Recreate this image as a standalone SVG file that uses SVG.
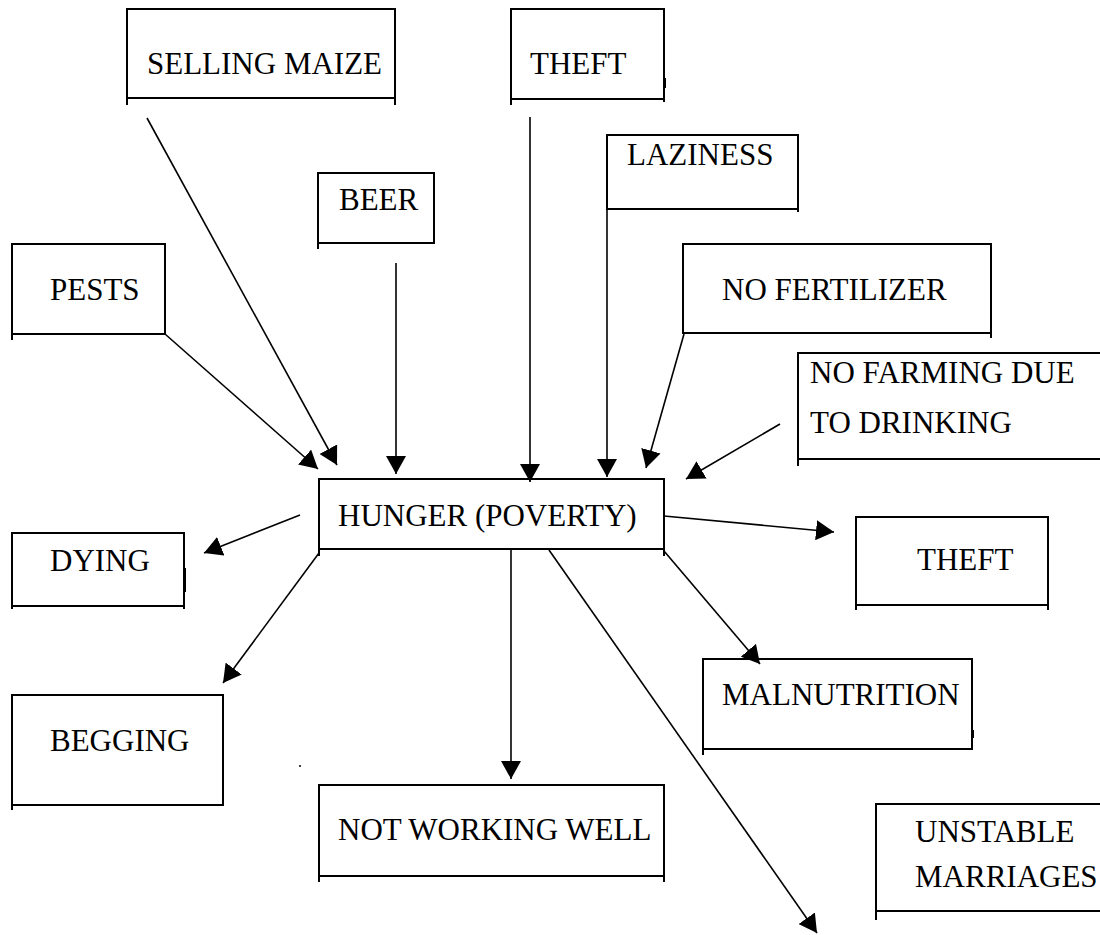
<svg xmlns="http://www.w3.org/2000/svg" width="1100" height="935" viewBox="0 0 1100 935">
  <style>
    .box { fill: #ffffff; stroke: #000000; stroke-width: 2; }
    .tick { fill: none; stroke: #000000; stroke-width: 2; }
    text { font-family: "Liberation Serif", "Times New Roman", serif; font-size: 31px; fill: #000000; }
    .edge { fill: none; stroke: #000000; stroke-width: 1.6; marker-end: url(#head); }
  </style>
  <defs>
    <marker id="head" viewBox="0 0 18 20" refX="18" refY="10" markerWidth="18" markerHeight="20" markerUnits="userSpaceOnUse" orient="auto">
      <path d="M0,0 L18,10 L0,20 z" fill="#000000"/>
    </marker>
  </defs>
  <rect width="1100" height="935" fill="#ffffff"/>

  <!-- causes (top half) -->
  <g id="node-selling-maize">
    <rect class="box" x="127" y="9" width="268" height="89"/>
    <path class="tick" d="M127,98 V105 M395,98 V105"/>
    <text x="147" y="74">SELLING MAIZE</text>
  </g>
  <g id="node-theft-top">
    <rect class="box" x="511" y="9" width="153" height="90"/>
    <path class="tick" d="M511,99 V105 M664,99 V102"/>
    <path class="tick" d="M665,78 V88" stroke-width="3"/>
    <text x="530" y="74">THEFT</text>
  </g>
  <g id="node-laziness">
    <rect class="box" x="607" y="135" width="191" height="74"/>
    <path class="tick" d="M798,209 V212"/>
    <text x="627" y="165">LAZINESS</text>
  </g>
  <g id="node-beer">
    <rect class="box" x="318" y="173" width="116" height="70"/>
    <path class="tick" d="M318,243 V249"/>
    <text x="339" y="210">BEER</text>
  </g>
  <g id="node-pests">
    <rect class="box" x="12" y="244" width="153" height="90"/>
    <path class="tick" d="M12,334 V340"/>
    <path class="tick" d="M165,312 V322" stroke-width="3"/>
    <text x="50" y="300">PESTS</text>
  </g>
  <g id="node-no-fertilizer">
    <rect class="box" x="683" y="244" width="308" height="89"/>
    <path class="tick" d="M991,333 V338"/>
    <text x="722" y="300">NO FERTILIZER</text>
  </g>
  <g id="node-no-farming">
    <rect class="box" x="798" y="353" width="310" height="106"/>
    <path class="tick" d="M798,459 V466"/>
    <text x="810" y="383">NO FARMING DUE</text>
    <text x="810" y="433">TO DRINKING</text>
  </g>

  <!-- central problem -->
  <g id="node-hunger">
    <rect class="box" x="319" y="479" width="345" height="70"/>
    <path class="tick" d="M319,549 V556 M664,549 V556"/>
    <text x="338" y="526">HUNGER (POVERTY)</text>
  </g>

  <!-- effects (bottom half) -->
  <g id="node-dying">
    <rect class="box" x="12" y="533" width="172" height="73"/>
    <path class="tick" d="M12,606 V609 M184,606 V609"/>
    <path class="tick" d="M185,568 V592" stroke-width="3"/>
    <text x="50" y="571">DYING</text>
  </g>
  <g id="node-theft-right">
    <rect class="box" x="856" y="517" width="192" height="88"/>
    <path class="tick" d="M856,605 V610 M1048,605 V610"/>
    <text x="917" y="570">THEFT</text>
  </g>
  <g id="node-malnutrition">
    <rect class="box" x="703" y="659" width="269" height="90"/>
    <path class="tick" d="M703,749 V755"/>
    <path class="tick" d="M973,730 V738" stroke-width="3"/>
    <text x="722" y="705">MALNUTRITION</text>
  </g>
  <g id="node-begging">
    <rect class="box" x="12" y="695" width="211" height="110"/>
    <path class="tick" d="M12,805 V810"/>
    <text x="50" y="751">BEGGING</text>
  </g>
  <g id="node-not-working-well">
    <rect class="box" x="319" y="785" width="345" height="91"/>
    <path class="tick" d="M319,876 V882 M664,876 V882"/>
    <path class="tick" d="M645,785 H664" stroke-width="3"/>
    <text x="338" y="840">NOT WORKING WELL</text>
  </g>
  <g id="node-unstable-marriages">
    <rect class="box" x="876" y="804" width="232" height="107"/>
    <path class="tick" d="M876,911 V920"/>
    <text x="915" y="842">UNSTABLE</text>
    <text x="915" y="887">MARRIAGES</text>
  </g>

  <circle cx="300" cy="766" r="1" fill="#000000"/>

  <!-- connectors -->
  <g id="connectors">
    <line class="edge" x1="147" y1="118" x2="337" y2="465"/>
    <line class="edge" x1="165" y1="334" x2="318" y2="469"/>
    <line class="edge" x1="396" y1="263" x2="396" y2="474"/>
    <line class="edge" x1="530" y1="117" x2="530" y2="482"/>
    <line class="edge" x1="607" y1="209" x2="607" y2="477"/>
    <line class="edge" x1="684" y1="334" x2="646" y2="468"/>
    <line class="edge" x1="780" y1="424" x2="686" y2="479"/>
    <line class="edge" x1="300" y1="515" x2="204" y2="553"/>
    <line class="edge" x1="664" y1="516" x2="834" y2="532"/>
    <line class="edge" x1="319" y1="553" x2="223" y2="683"/>
    <line class="edge" x1="511" y1="549" x2="511" y2="779"/>
    <line class="edge" x1="664" y1="551" x2="760" y2="664"/>
    <line class="edge" x1="549" y1="550" x2="817" y2="933"/>
  </g>
</svg>
